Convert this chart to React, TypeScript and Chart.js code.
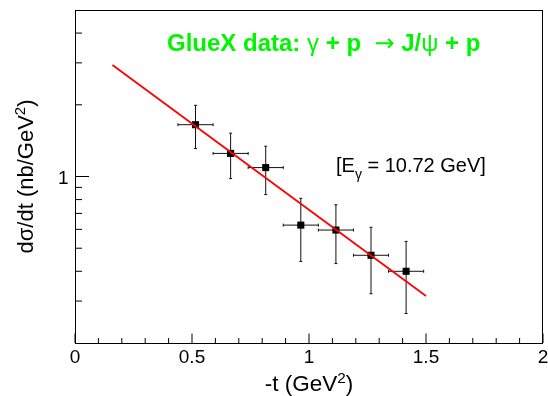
import React, { useEffect, useRef } from 'react';
import { Chart, registerables } from 'chart.js';

Chart.register(...registerables);

// ---- data ----
const tValues = [0.515, 0.665, 0.815, 0.965, 1.115, 1.265, 1.415];
const tErrors = [0.075, 0.075, 0.075, 0.075, 0.075, 0.075, 0.075];
const dsdtValues = [1.65, 1.25, 1.09, 0.625, 0.596, 0.467, 0.4];
const dsdtErrors = [0.34, 0.27, 0.25, 0.185, 0.165, 0.145, 0.134];

const fitT = [0.16, 1.5];
const fitValues = [2.94, 0.315];

// ---- axes ----
const xMajorTicks = [0, 0.5, 1, 1.5, 2];
const xTickLabels = ['0', '0.5', '1', '1.5', '2'];
const xMinorTicks = [0.1, 0.2, 0.3, 0.4, 0.6, 0.7, 0.8, 0.9, 1.1, 1.2, 1.3, 1.4, 1.6, 1.7, 1.8, 1.9];
const yMajorTicks = [1];
const yTickLabels = ['1'];
const yMinorTicks = [0.3, 0.4, 0.5, 0.6, 0.7, 0.8, 0.9, 2, 3, 4];

const FONT = "'Liberation Sans', Arial, Helvetica, sans-serif";
const SYMBOL_FONT = "'DejaVu Sans', 'Liberation Sans', sans-serif";

const titleParts: { text: string; bold: boolean; sym?: boolean }[] = [
  { text: 'GlueX data: ', bold: true },
  { text: 'γ', bold: false },
  { text: ' + p  ', bold: true },
  { text: '→', bold: false, sym: true },
  { text: ' J/', bold: true },
  { text: 'ψ', bold: false },
  { text: ' + p', bold: true },
];

// draw "main" + superscript "sup" + "tail" with given alignment center at (x,y)
function drawWithSup(ctx: any, main: string, sup: string, tail: string, size: number, x: number, y: number) {
  const supSize = size * 0.68;
  ctx.font = `${size}px ${FONT}`;
  const w1 = ctx.measureText(main).width;
  const w3 = ctx.measureText(tail).width;
  ctx.font = `${supSize}px ${FONT}`;
  const w2 = ctx.measureText(sup).width;
  const total = w1 + w2 + w3;
  let cx = x - total / 2;
  ctx.textAlign = 'left';
  ctx.font = `${size}px ${FONT}`;
  ctx.fillText(main, cx, y);
  cx += w1;
  ctx.font = `${supSize}px ${FONT}`;
  ctx.fillText(sup, cx, y - size * 0.36);
  cx += w2;
  ctx.font = `${size}px ${FONT}`;
  ctx.fillText(tail, cx, y);
}

const rootStyle = {
  id: 'rootStyle',
  beforeDatasetsDraw(chart: any) {
    const { ctx } = chart;
    const xs = chart.scales.x;
    const ys = chart.scales.y;
    ctx.save();
    ctx.strokeStyle = '#111';
    ctx.lineWidth = 1;
    tValues.forEach((t, i) => {
      const px = xs.getPixelForValue(t);
      const py = ys.getPixelForValue(dsdtValues[i]);
      const x0 = xs.getPixelForValue(t - tErrors[i]);
      const x1 = xs.getPixelForValue(t + tErrors[i]);
      const y0 = ys.getPixelForValue(dsdtValues[i] + dsdtErrors[i]);
      const y1 = ys.getPixelForValue(dsdtValues[i] - dsdtErrors[i]);
      ctx.beginPath();
      ctx.moveTo(x0, py);
      ctx.lineTo(x1, py);
      ctx.moveTo(px, y0);
      ctx.lineTo(px, y1);
      ctx.moveTo(x0, py - 1.5);
      ctx.lineTo(x0, py + 1.5);
      ctx.moveTo(x1, py - 1.5);
      ctx.lineTo(x1, py + 1.5);
      ctx.moveTo(px - 1.5, y0);
      ctx.lineTo(px + 1.5, y0);
      ctx.moveTo(px - 1.5, y1);
      ctx.lineTo(px + 1.5, y1);
      ctx.stroke();
    });
    ctx.restore();
  },
  afterDraw(chart: any) {
    const { ctx, chartArea: ca } = chart;
    const xs = chart.scales.x;
    const ys = chart.scales.y;
    ctx.save();
    // frame
    ctx.strokeStyle = '#000';
    ctx.lineWidth = 1;
    ctx.strokeRect(ca.left + 0.5, ca.top + 0.5, ca.right - ca.left - 1, ca.bottom - ca.top);

    // x ticks (inward)
    ctx.beginPath();
    xMajorTicks.forEach((v) => {
      const p = xs.getPixelForValue(v);
      ctx.moveTo(p, ca.bottom);
      ctx.lineTo(p, ca.bottom - 9.5);
    });
    xMinorTicks.forEach((v) => {
      const p = xs.getPixelForValue(v);
      ctx.moveTo(p, ca.bottom);
      ctx.lineTo(p, ca.bottom - 5);
    });
    // y ticks (inward)
    yMajorTicks.forEach((v) => {
      const p = ys.getPixelForValue(v);
      ctx.moveTo(ca.left, p);
      ctx.lineTo(ca.left + 14, p);
    });
    yMinorTicks.forEach((v) => {
      const p = ys.getPixelForValue(v);
      ctx.moveTo(ca.left, p);
      ctx.lineTo(ca.left + 7, p);
    });
    ctx.stroke();

    // tick labels
    ctx.fillStyle = '#000';
    ctx.font = `19px ${FONT}`;
    ctx.textBaseline = 'alphabetic';
    ctx.textAlign = 'center';
    xMajorTicks.forEach((v, i) => {
      ctx.fillText(xTickLabels[i], xs.getPixelForValue(v), ca.bottom + 19.5);
    });
    ctx.textAlign = 'right';
    yMajorTicks.forEach((v, i) => {
      ctx.fillText(yTickLabels[i], ca.left - 6.5, ys.getPixelForValue(v) + 7);
    });

    // axis titles
    drawWithSup(ctx, '-t (GeV', '2', ')', 22.5, (ca.left + ca.right) / 2, ca.bottom + 48);
    ctx.save();
    ctx.translate(33, (ca.top + ca.bottom) / 2);
    ctx.rotate(-Math.PI / 2);
    drawWithSup(ctx, 'dσ/dt (nb/GeV', '2', ')', 22, 0, 0);
    ctx.restore();

    // green title
    ctx.textAlign = 'left';
    ctx.fillStyle = 'rgb(0,245,0)';
    let tx = ca.left + 92;
    const ty = ca.top + 41;
    titleParts.forEach((p) => {
      ctx.font = `${p.bold ? 'bold ' : ''}24px ${p.sym ? SYMBOL_FONT : FONT}`;
      ctx.fillText(p.text, tx, ty);
      tx += ctx.measureText(p.text).width;
    });

    // beam energy annotation
    ctx.fillStyle = '#000';
    let ex = 336;
    const ey = 172;
    ctx.font = `20px ${FONT}`;
    ctx.fillText('[E', ex, ey);
    ex += ctx.measureText('[E').width;
    ctx.font = `14px ${FONT}`;
    ctx.fillText('γ', ex, ey + 7);
    ex += ctx.measureText('γ').width;
    ctx.font = `20px ${FONT}`;
    ctx.fillText(' = 10.72 GeV]', ex, ey);
    ctx.restore();
  },
};

export default function App() {
  const ref = useRef<HTMLCanvasElement>(null);
  useEffect(() => {
    const canvas = ref.current;
    if (!canvas) return;
    const chart = new Chart(canvas, {
      type: 'scatter',
      data: {
        datasets: [
          {
            type: 'line',
            label: 'fit',
            data: fitT.map((t, i) => ({ x: t, y: fitValues[i] })),
            borderColor: 'rgb(255,0,0)',
            borderWidth: 1.8,
            pointRadius: 0,
            fill: false,
            tension: 0,
          } as any,
          {
            type: 'scatter',
            label: 'GlueX',
            data: tValues.map((t, i) => ({ x: t, y: dsdtValues[i] })),
            pointStyle: 'rect',
            pointRadius: 5,
            backgroundColor: '#000',
            borderColor: '#000',
            borderWidth: 0,
          },
        ],
      },
      options: {
        animation: false,
        responsive: false,
        devicePixelRatio: 1,
        layout: { padding: { left: 75, right: 4, top: 10, bottom: 53 } },
        plugins: { legend: { display: false }, tooltip: { enabled: false } },
        scales: {
          x: { type: 'linear', min: 0, max: 2, display: false },
          y: { type: 'logarithmic', min: 0.2, max: 5, display: false },
        },
      },
      plugins: [rootStyle],
    });
    return () => chart.destroy();
  }, []);
  return (
    <div style={{ position: 'absolute', left: 0, top: 0, width: 548, height: 396, background: '#fff' }}>
      <canvas ref={ref} width={548} height={396} style={{ display: 'block', width: 548, height: 396 }} />
    </div>
  );
}
